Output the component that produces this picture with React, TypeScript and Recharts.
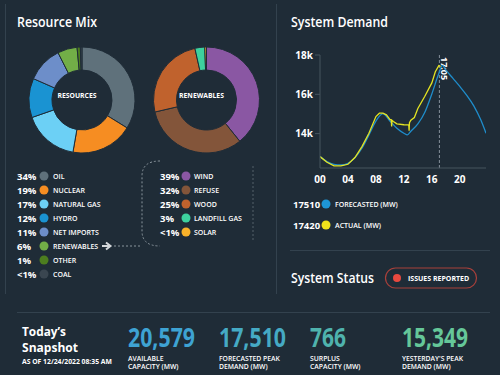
import React from "react";
import {
  PieChart,
  Pie,
  Cell,
  LineChart,
  Line,
  XAxis,
  YAxis,
  ReferenceLine,
} from "recharts";

// resource mix (left donut)
const resourceNames = ["OIL", "NUCLEAR", "NATURAL GAS", "HYDRO", "NET IMPORTS", "RENEWABLES", "OTHER", "COAL"];
const resourceShares = [34, 19, 17, 12, 11, 6, 1, 0.5];
const resourceLabels = ["34%", "19%", "17%", "12%", "11%", "6%", "1%", "<1%"];
const resourceColors = ["#5f717b", "#f68d22", "#6cd0f5", "#1a93d2", "#6d8ec9", "#72ae47", "#4c7d1f", "#3a4650"];

// renewables breakdown (right donut)
const renewableNames = ["WIND", "REFUSE", "WOOD", "LANDFILL GAS", "SOLAR"];
const renewableShares = [39, 32, 25, 3, 0.5];
const renewableLabels = ["39%", "32%", "25%", "3%", "<1%"];
const renewableColors = ["#8a57a3", "#83553a", "#c0622d", "#3dd19e", "#f8b22a"];

// system demand, MW by hour of day
const forecastHours = [0, 1, 2, 3, 4, 5, 6, 7, 8, 9, 10, 11, 12, 12.5, 13, 14, 15, 16, 17, 17.5, 18, 19, 20, 21, 22, 23, 23.75];
const forecastMw = [12830, 12575, 12440, 12410, 12490, 12780, 13255, 13935, 14640, 15020, 14645, 14275, 14020, 13935, 14120, 14495, 15090, 16020, 17055, 17470, 17240, 16820, 16400, 15945, 15410, 14700, 14020];
const actualHours = [0, 1, 2, 3, 4, 5, 6, 7, 8, 8.5, 9, 9.5, 10, 10.2, 10.25, 10.3, 10.5, 11, 12, 12.5, 12.7, 12.75, 12.8, 13, 13.5, 14, 15, 16, 16.5, 17, 17.25];
const actualMw = [12830, 12540, 12360, 12360, 12440, 12780, 13340, 14020, 14870, 15040, 15040, 14955, 14720, 14690, 14360, 14680, 14620, 14500, 14450, 14440, 14440, 14150, 14560, 14680, 14820, 15280, 15900, 16580, 17150, 17460, 17420];
const xTicks = [0, 4, 8, 12, 16, 20];
const yTicks = [14000, 16000, 18000];
const nowHour = 17 + 5 / 60;

const demandLegend = [
  { value: "17510", name: "FORECASTED (MW)", color: "#1e96d6" },
  { value: "17420", name: "ACTUAL (MW)", color: "#efe21b" },
];

// snapshot
const snapshotValues = ["20,579", "17,510", "766", "15,349"];
const snapshotLines1 = ["AVAILABLE", "FORECASTED PEAK", "SURPLUS", "YESTERDAY'S PEAK"];
const snapshotLines2 = ["CAPACITY (MW)", "DEMAND (MW)", "CAPACITY (MW)", "DEMAND (MW)"];
const snapshotColors = ["#3ea3d3", "#45aac4", "#4fb3ad", "#65c799"];
const snapshotWidths = [67, 67, 36, 66];

const bg = "#1f2c37";
const font = "'Open Sans', sans-serif";
const ruleColor = "#33424e";
const axisColor = "#46545f";

const resourceData = resourceNames.map((name, i) => ({ name, value: resourceShares[i] }));
const renewableData = renewableNames.map((name, i) => ({ name, value: renewableShares[i] }));
const forecastData = forecastHours.map((hour, i) => ({ hour, mw: forecastMw[i] }));
const actualData = actualHours.map((hour, i) => ({ hour, mw: actualMw[i] }));

const NowLabel = (props: any) => {
  const x = props.viewBox.x + 2;
  const y = props.viewBox.y + 2;
  return (
    <text x={x} y={y} transform={`rotate(90, ${x}, ${y})`} fill="#fff" fontSize={9} fontWeight={700} fontFamily={font}>
      17:05
    </text>
  );
};

const App: React.FC = () => {
  return (
    <div style={{ position: "fixed", left: 0, top: 0, width: 500, height: 375, background: bg, overflow: "hidden", fontFamily: font }}>
      <svg width={500} height={375} style={{ position: "absolute", left: 0, top: 0 }} fontFamily={font}>
        {/* frame rules */}
        <line x1={5.5} y1={4} x2={5.5} y2={294} stroke={ruleColor} />
        <line x1={276.5} y1={4} x2={276.5} y2={294} stroke={ruleColor} />
        <line x1={290} y1={250.5} x2={490} y2={250.5} stroke={ruleColor} />
        <line x1={17} y1={312.5} x2={490} y2={312.5} stroke={ruleColor} />

        <text x={17} y={27} fill="#fff" fontSize={13.5} fontWeight={600} textLength={80} lengthAdjust="spacingAndGlyphs">Resource Mix</text>
        <text x={291} y={27} fill="#fff" fontSize={13.5} fontWeight={600} textLength={97} lengthAdjust="spacingAndGlyphs">System Demand</text>

        {/* donut centre labels */}
        <text x={77} y={97.5} textAnchor="middle" fill="#fff" fontSize={6.8} fontWeight={700}>RESOURCES</text>
        <text x={201.5} y={97.5} textAnchor="middle" fill="#fff" fontSize={6.8} fontWeight={700}>RENEWABLES</text>

        {/* resource legend */}
        {resourceNames.map((name, i) => {
          const cy = 176 + i * 14;
          return (
            <g key={name}>
              <text x={17} y={cy + 3.5} fill="#fff" fontSize={9.5} fontWeight={700}>{resourceLabels[i]}</text>
              <circle cx={44} cy={cy} r={4.5} fill={resourceColors[i]} />
              <text x={53} y={cy + 2.5} fill="#fff" fontSize={7} fontWeight={600}>{name}</text>
            </g>
          );
        })}
        {renewableNames.map((name, i) => {
          const cy = 176 + i * 14;
          return (
            <g key={name}>
              <text x={160} y={cy + 3.5} fill="#fff" fontSize={9.5} fontWeight={700}>{renewableLabels[i]}</text>
              <circle cx={186} cy={cy} r={4.5} fill={renewableColors[i]} />
              <text x={194} y={cy + 2.5} fill="#fff" fontSize={7} fontWeight={600}>{name}</text>
            </g>
          );
        })}

        {/* arrow + bracket */}
        <path d="M102 246 L109 246 M106 242.5 L110.5 246 L106 249.5" stroke="#d4d8db" strokeWidth={2} fill="none" />
        <line x1={114} y1={246} x2={140} y2={246} stroke="#8a959d" strokeDasharray="2 2" />
        <path d="M160 161 Q142 161 142 176 L142 231 Q142 246 160 246" stroke="#8a959d" strokeDasharray="2 2" fill="none" />
        <line x1={253} y1={166} x2={253} y2={240} stroke="#8a959d" strokeDasharray="2 2" opacity={0.5} />

        {/* demand legend */}
        {demandLegend.map((d, i) => {
          const cy = 204 + i * 21;
          return (
            <g key={d.name}>
              <text x={293} y={cy + 3.5} fill="#fff" fontSize={9.5} fontWeight={700}>{d.value}</text>
              <circle cx={326} cy={cy} r={4.5} fill={d.color} />
              <text x={335} y={cy + 2.5} fill="#fff" fontSize={7} fontWeight={600}>{d.name}</text>
            </g>
          );
        })}

        {/* system status */}
        <text x={291} y={283} fill="#fff" fontSize={13.5} fontWeight={600} textLength={83} lengthAdjust="spacingAndGlyphs">System Status</text>
        <rect x={385.5} y={268} width={91} height={20} rx={10} fill="none" stroke="#a8403b" strokeWidth={1.2} />
        <circle cx={397} cy={278} r={4} fill="#e8493f" />
        <text x={408} y={280.5} fill="#fff" fontSize={7} fontWeight={700}>ISSUES REPORTED</text>

        {/* snapshot */}
        <text x={22} y={335.5} fill="#fff" fontSize={11.5} fontWeight={700} textLength={44} lengthAdjust="spacingAndGlyphs">Today’s</text>
        <text x={22} y={351.5} fill="#fff" fontSize={11.5} fontWeight={700} textLength={56} lengthAdjust="spacingAndGlyphs">Snapshot</text>
        <text x={22} y={363.5} fill="#fff" fontSize={6.8} fontWeight={700}>AS OF 12/24/2022 08:35 AM</text>
        {snapshotValues.map((v, i) => {
          const x = [128, 219, 310, 402][i];
          return (
            <g key={v}>
              <text x={x} y={347} fill={snapshotColors[i]} fontSize={26} fontWeight={700} textLength={snapshotWidths[i]} lengthAdjust="spacingAndGlyphs">{v}</text>
              <text x={x} y={361} fill="#fff" fontSize={6.8} fontWeight={600}>{snapshotLines1[i]}</text>
              <text x={x} y={369} fill="#fff" fontSize={6.8} fontWeight={600}>{snapshotLines2[i]}</text>
            </g>
          );
        })}
      </svg>

      <div style={{ position: "absolute", left: 0, top: 0 }}>
        <PieChart width={260} height={160}>
          <Pie
            data={resourceData}
            dataKey="value"
            cx={77}
            cy={95}
            innerRadius={30}
            outerRadius={53}
            startAngle={90}
            endAngle={-270}
            stroke={bg}
            strokeWidth={1}
            isAnimationActive={false}
          >
            {resourceData.map((d, i) => (
              <Cell key={d.name} fill={resourceColors[i]} />
            ))}
          </Pie>
          <Pie
            data={renewableData}
            dataKey="value"
            cx={201.5}
            cy={95}
            innerRadius={30}
            outerRadius={53}
            startAngle={90}
            endAngle={-270}
            stroke={bg}
            strokeWidth={1}
            isAnimationActive={false}
          >
            {renewableData.map((d, i) => (
              <Cell key={d.name} fill={renewableColors[i]} />
            ))}
          </Pie>
        </PieChart>
      </div>

      <div style={{ position: "absolute", left: 270, top: 40 }}>
        <LineChart width={230} height={150} margin={{ top: 15, right: 14, bottom: 0, left: 0 }}>
          <XAxis
            dataKey="hour"
            type="number"
            domain={[0, 23.75]}
            ticks={xTicks}
            interval={0}
            tickFormatter={(h: number) => String(h).padStart(2, "0")}
            tick={{ fill: "#fff", fontSize: 10, fontWeight: 700, fontFamily: font }}
            tickLine={false}
            axisLine={{ stroke: axisColor }}
            height={22}
            allowDataOverflow
          />
          <YAxis
            type="number"
            domain={[12250, 18000]}
            ticks={yTicks}
            interval={0}
            tickFormatter={(v: number) => `${v / 1000}k`}
            tick={{ fill: "#fff", fontSize: 10, fontWeight: 700, fontFamily: font }}
            tickLine={{ stroke: axisColor }}
            tickSize={5}
            axisLine={{ stroke: axisColor }}
            width={50}
            allowDataOverflow
          />
          <ReferenceLine x={nowHour} stroke="#85909a" strokeDasharray="3 2" label={<NowLabel />} />
          <Line data={forecastData} dataKey="mw" type="monotone" stroke="#1f8dcb" strokeWidth={1.3} dot={false} isAnimationActive={false} />
          <Line data={actualData} dataKey="mw" type="linear" stroke="#e4e422" strokeWidth={1.3} dot={false} isAnimationActive={false} />
        </LineChart>
      </div>
    </div>
  );
};

export default App;
